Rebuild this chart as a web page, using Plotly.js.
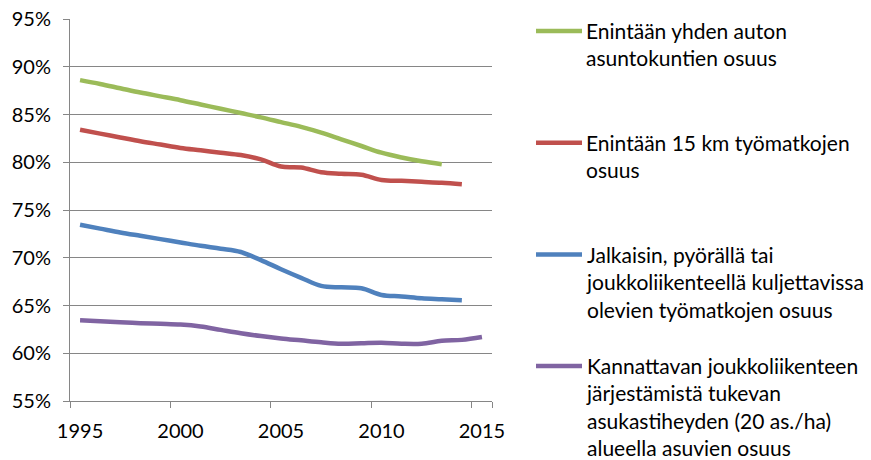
<!DOCTYPE html>
<html><head><meta charset="utf-8">
<script src="https://cdn.plot.ly/plotly-3.0.1.min.js"></script>
<style>html,body{margin:0;padding:0;background:#fff}#chart{width:871px;height:460px}</style>
</head><body><div id="chart"></div>
<script>
const years = ['1995','1996','1997','1998','1999','2000','2001','2002','2003','2004','2005',
               '2006','2007','2008','2009','2010','2011','2012','2013','2014','2015'];
const xTickYears = ['1995','2000','2005','2010','2015'];

const seriesNames = [
  'Enintään yhden auton<br>asuntokuntien osuus',
  'Enintään 15 km työmatkojen<br>osuus',
  'Jalkaisin, pyörällä tai<br>joukkoliikenteellä kuljettavissa<br>olevien työmatkojen osuus',
  'Kannattavan joukkoliikenteen<br>järjestämistä tukevan<br>asukastiheyden (20 as./ha)<br>alueella asuvien osuus'
];

const cars = [88.6, 88.2, 87.75, 87.3, 86.9, 86.5, 86.05, 85.6, 85.15, 84.7,
              84.2, 83.7, 83.1, 82.4, 81.7, 81.0, 80.5, 80.1, 79.8];
const commute15 = [83.4, 83.0, 82.6, 82.2, 81.85, 81.5, 81.25, 81.0, 80.75, 80.3,
                   79.55, 79.45, 78.95, 78.8, 78.7, 78.15, 78.05, 77.95, 77.85, 77.7];
const sustainable = [73.45, 73.05, 72.65, 72.3, 71.95, 71.6, 71.25, 70.95, 70.6, 69.75,
                     68.8, 67.9, 67.05, 66.9, 66.8, 66.1, 65.95, 65.75, 65.65, 65.55];
const density = [63.45, 63.35, 63.25, 63.15, 63.08, 63.0, 62.8, 62.45, 62.1, 61.8,
                 61.55, 61.35, 61.15, 61.0, 61.05, 61.1, 61.0, 61.0, 61.3, 61.4, 61.7];

const colors = ['#9BBB59', '#C0504D', '#4F81BD', '#8064A2'];
const values = [cars, commute15, sustainable, density];

const traces = values.map((v, i) => ({
  type: 'scatter', mode: 'lines',
  x: years.slice(0, v.length), y: v,
  name: seriesNames[i].replace(/<br>/g, ' '),
  line: {color: colors[i], width: 4.5, shape: 'spline', smoothing: 1},
  showlegend: false,
  hoverinfo: 'x+y'
}));

// Manual legend (Excel-style, evenly spaced, taller than the plot area)
const W = 871, H = 460, ML = 70, MR = 379, MT = 19, MB = 59;
const PW = W - ML - MR, PH = H - MT - MB;
const px2x = px => (px - ML) / PW;
const py2y = py => 1 - (py - MT) / PH;
const legendTop = 31, legendStep = 111.7;
const shapes = [], annotations = [];
seriesNames.forEach((n, i) => {
  const cy = legendTop + i * legendStep;
  shapes.push({type: 'line', xref: 'paper', yref: 'paper',
    x0: px2x(536), x1: px2x(582), y0: py2y(cy), y1: py2y(cy),
    line: {color: colors[i], width: 4.5}});
  annotations.push({xref: 'paper', yref: 'paper', x: px2x(584), y: py2y(cy - 14.7),
    xanchor: 'left', yanchor: 'top', align: 'left', showarrow: false,
    text: n, font: {size: 21, color: '#000'}});
});

const layout = {
  width: W, height: H,
  margin: {l: ML, r: MR, t: MT, b: MB},
  paper_bgcolor: '#fff', plot_bgcolor: '#fff',
  font: {family: 'Lato, "Open Sans", sans-serif', size: 20, color: '#000'},
  xaxis: {
    type: 'category', categoryorder: 'array', categoryarray: years,
    range: [-0.5, 20.5],
    tickmode: 'array', tickvals: xTickYears, ticktext: xTickYears,
    tickson: 'boundaries', tickangle: 0,
    ticks: 'outside', ticklen: 6, tickcolor: '#868686', tickwidth: 1,
    showline: true, linecolor: '#868686', linewidth: 1,
    showgrid: false, zeroline: false,
    ticklabelstandoff: 12,
    tickfont: {size: 20}
  },
  yaxis: {
    range: [55, 95], tick0: 55, dtick: 5, ticksuffix: '%',
    ticks: 'outside', ticklen: 6, tickcolor: '#868686', tickwidth: 1,
    showline: true, linecolor: '#868686', linewidth: 1,
    showgrid: true, gridcolor: '#868686', gridwidth: 1,
    zeroline: false, ticklabelstandoff: 8,
    tickfont: {size: 20}
  },
  showlegend: false,
  shapes: shapes,
  annotations: annotations
};

Plotly.newPlot('chart', traces, layout, {displayModeBar: false, staticPlot: true});
</script>
</body></html>
